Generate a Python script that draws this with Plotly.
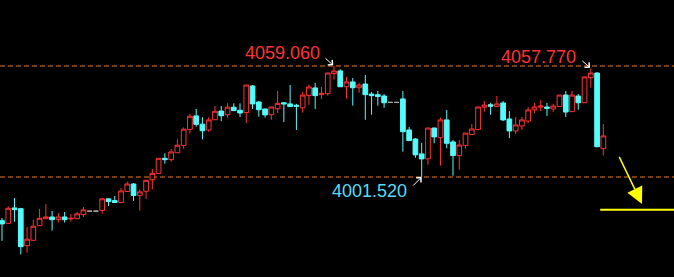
import plotly.graph_objects as go

# ---- data ----
opens = [3978.9, 3977.5, 3985.5, 3985.1, 3965.9, 3968.7, 3976.3, 3979.9, 3980.8, 3979.4,
         3980.8, 3979.8, 3979.9, 3982.0, 3983.8, 3983.8, 3984.2, 3990.2, 3989.3, 3988.3,
         3994.0, 3997.9, 3992.0, 3994.1, 4000.1, 4003.4, 4011.2, 4010.5, 4014.1, 4017.9,
         4026.2, 4033.2, 4028.9, 4025.9, 4031.2, 4035.7, 4033.8, 4037.7, 4036.1, 4034.9,
         4048.7, 4040.4, 4036.8, 4033.8, 4036.9, 4040.0, 4039.4, 4038.7, 4037.4, 4043.7,
         4047.7, 4044.2, 4044.7, 4055.1, 4056.5, 4048.3, 4050.8, 4047.8, 4049.7, 4044.5,
         4044.2, 4043.5, 4040.2, 4040.2, 4042.0, 4025.9, 4021.2, 4013.5, 4010.9, 4026.9,
         4021.9, 4031.1, 4019.7, 4012.6, 4017.8, 4023.5, 4026.1, 4037.7, 4039.0, 4038.0,
         4039.9, 4031.6, 4025.4, 4028.0, 4030.5, 4036.3, 4037.7, 4037.8, 4036.8, 4038.0,
         4044.0, 4035.4, 4043.5, 4040.0, 4053.0, 4055.4, 4016.2]
highs = [3980.3, 3986.3, 3990.6, 3985.5, 3975.6, 3979.4, 3985.0, 3987.5, 3983.9, 3982.9,
         3983.4, 3982.4, 3983.4, 3986.0, 3983.8, 3983.8, 3990.6, 3990.4, 3991.7, 3995.9,
         3999.0, 3998.3, 3995.1, 4000.0, 4005.7, 4011.4, 4013.8, 4016.1, 4021.1, 4027.2,
         4034.2, 4036.8, 4032.5, 4032.5, 4038.3, 4038.3, 4039.7, 4039.7, 4039.7, 4049.2,
         4049.2, 4040.9, 4036.9, 4038.0, 4046.1, 4040.4, 4049.2, 4039.4, 4045.6, 4049.4,
         4050.3, 4048.2, 4055.6, 4059.06, 4057.4, 4053.4, 4052.8, 4050.3, 4054.4, 4045.6,
         4046.1, 4044.5, 4040.2, 4040.2, 4046.1, 4027.4, 4021.7, 4019.2, 4027.1, 4027.1,
         4032.3, 4036.3, 4020.7, 4020.7, 4024.3, 4029.0, 4038.0, 4040.9, 4040.0, 4043.5,
         4040.9, 4035.7, 4032.6, 4032.6, 4037.8, 4039.9, 4041.4, 4039.9, 4039.4, 4044.0,
         4046.1, 4046.1, 4044.5, 4053.4, 4057.77, 4055.9, 4029.0]
lows = [3968.4, 3977.4, 3978.4, 3961.4, 3962.3, 3968.5, 3976.1, 3979.8, 3973.7, 3977.9,
        3977.9, 3978.4, 3979.8, 3980.8, 3983.8, 3983.8, 3982.5, 3986.5, 3988.2, 3988.2,
        3993.9, 3989.1, 3984.1, 3990.2, 3995.1, 4003.3, 4008.4, 4009.5, 4014.0, 4016.1,
        4024.0, 4027.6, 4021.0, 4024.9, 4031.1, 4030.5, 4032.3, 4035.9, 4032.6, 4029.5,
        4036.8, 4032.8, 4032.3, 4031.2, 4034.7, 4030.0, 4037.8, 4025.9, 4034.9, 4039.0,
        4036.8, 4042.0, 4043.7, 4052.0, 4048.3, 4042.1, 4038.5, 4045.2, 4031.2, 4033.8,
        4038.5, 4037.4, 4040.2, 4040.2, 4014.7, 4020.2, 4011.5, 4001.52, 4007.9, 4019.0,
        4007.4, 4016.4, 4002.2, 4005.3, 4016.2, 4023.5, 4025.9, 4035.4, 4033.8, 4037.8,
        4030.5, 4021.7, 4023.8, 4025.9, 4029.5, 4034.7, 4035.7, 4033.2, 4035.2, 4038.0,
        4032.6, 4035.4, 4036.4, 4040.0, 4047.8, 4017.1, 4012.6]
closes = [3977.2, 3985.3, 3984.6, 3965.4, 3969.3, 3976.0, 3980.1, 3980.8, 3979.4, 3980.8,
          3979.4, 3980.1, 3982.4, 3984.5, 3983.8, 3983.8, 3990.2, 3988.8, 3988.3, 3994.3,
          3997.9, 3991.9, 3993.8, 3999.8, 4003.4, 4011.2, 4010.5, 4014.5, 4018.0, 4026.3,
          4033.0, 4028.8, 4025.5, 4031.1, 4035.6, 4033.3, 4037.7, 4035.9, 4034.7, 4049.2,
          4039.4, 4036.4, 4033.7, 4037.8, 4039.7, 4039.4, 4038.0, 4038.2, 4044.0, 4048.2,
          4043.7, 4044.9, 4055.4, 4056.5, 4048.3, 4050.8, 4047.8, 4049.2, 4044.2, 4043.7,
          4043.2, 4040.0, 4040.2, 4040.2, 4025.0, 4020.4, 4013.0, 4010.9, 4026.9, 4022.3,
          4031.1, 4019.0, 4012.6, 4018.1, 4024.3, 4026.4, 4037.8, 4038.8, 4038.2, 4039.4,
          4031.1, 4025.4, 4028.5, 4031.1, 4036.3, 4037.8, 4038.3, 4037.1, 4038.3, 4044.0,
          4035.2, 4044.0, 4040.0, 4053.4, 4055.4, 4017.2, 4022.8]

high_mark = 4059.06
high2_mark = 4057.77
low_mark = 4001.52
label_high = "4059.060"
label_high2 = "4057.770"
label_low = "4001.520"

# projection (yellow) guide
proj_tail = (98.42, 4012.7)
proj_head = (102.17, 3987.5)
proj_level = 3984.5
proj_start = 95.5

UP = "#ff3232"
DOWN = "#54fcfc"
FLAT = "#a8a8a8"
DASH = "#f07a1a"

idx = list(range(len(opens)))
norm = [i for i in idx if not (opens[i] == highs[i] == lows[i] == closes[i])]
flat = [i for i in idx if opens[i] == highs[i] == lows[i] == closes[i]]

fig = go.Figure()
fig.add_trace(go.Candlestick(
    x=norm,
    open=[opens[i] for i in norm], high=[highs[i] for i in norm],
    low=[lows[i] for i in norm], close=[closes[i] for i in norm],
    increasing=dict(line=dict(color=UP, width=1), fillcolor="#000000"),
    decreasing=dict(line=dict(color=DOWN, width=1), fillcolor=DOWN),
    hoverinfo="skip", showlegend=False,
))
fig.add_trace(go.Candlestick(
    x=flat,
    open=[opens[i] for i in flat], high=[highs[i] for i in flat],
    low=[lows[i] for i in flat], close=[closes[i] for i in flat],
    increasing=dict(line=dict(color=FLAT, width=1), fillcolor=FLAT),
    decreasing=dict(line=dict(color=FLAT, width=1), fillcolor=FLAT),
    hoverinfo="skip", showlegend=False,
))

for lvl in (high_mark, low_mark):
    fig.add_shape(type="line", xref="paper", x0=0, x1=1, yref="y", y0=lvl, y1=lvl,
                  line=dict(color=DASH, width=1, dash="5px,3px"), layer="below")

# yellow projection line
fig.add_shape(type="line", xref="x", x0=proj_start, x1=108, yref="y",
              y0=proj_level, y1=proj_level, line=dict(color="#ffff00", width=2))
fig.add_annotation(x=proj_head[0], y=proj_head[1], ax=proj_tail[0], ay=proj_tail[1],
                   xref="x", yref="y", axref="x", ayref="y", text="", showarrow=True,
                   arrowhead=2, arrowsize=2.2, arrowwidth=1.5, arrowcolor="#ffff00")

i_hi = highs.index(high_mark)
i_hi2 = highs.index(high2_mark)
i_lo = lows.index(low_mark)

# white pointer arrows
fig.add_annotation(x=i_hi, y=high_mark, ax=-10, ay=-9, text="", showarrow=True,
                   arrowhead=4, arrowsize=1.3, arrowwidth=1, arrowcolor="#ffffff", standoff=1)
fig.add_annotation(x=i_hi2, y=high2_mark, ax=-10, ay=-9, text="", showarrow=True,
                   arrowhead=4, arrowsize=1.3, arrowwidth=1, arrowcolor="#ffffff", standoff=1)
fig.add_annotation(x=i_lo, y=low_mark, ax=-10, ay=10, text="", showarrow=True,
                   arrowhead=4, arrowsize=1.3, arrowwidth=1, arrowcolor="#ffffff", standoff=0)

font = "Liberation Sans, Arial, sans-serif"
fig.add_annotation(xref="paper", yref="paper", x=282 / 674, y=1 - 53 / 277, text=label_high,
                   showarrow=False, font=dict(family=font, size=18, color=UP),
                   xanchor="center", yanchor="middle")
fig.add_annotation(xref="paper", yref="paper", x=538.7 / 674, y=1 - 56.5 / 277, text=label_high2,
                   showarrow=False, font=dict(family=font, size=18, color=UP),
                   xanchor="center", yanchor="middle")
fig.add_annotation(xref="paper", yref="paper", x=369.3 / 674, y=1 - 191.3 / 277, text=label_low,
                   showarrow=False, font=dict(family=font, size=18, color="#55dcf8"),
                   xanchor="center", yanchor="middle")

fig.update_layout(
    width=674, height=277, margin=dict(l=0, r=0, t=0, b=0),
    paper_bgcolor="#000000", plot_bgcolor="#000000",
    xaxis=dict(range=[-0.319, 107.28], visible=False, rangeslider=dict(visible=False),
               fixedrange=True),
    yaxis=dict(range=[3949.68, 4093.27], visible=False, fixedrange=True),
    boxgap=0.25, boxgroupgap=0, showlegend=False,
)
fig.write_html("out.html", config={"displayModeBar": False})
